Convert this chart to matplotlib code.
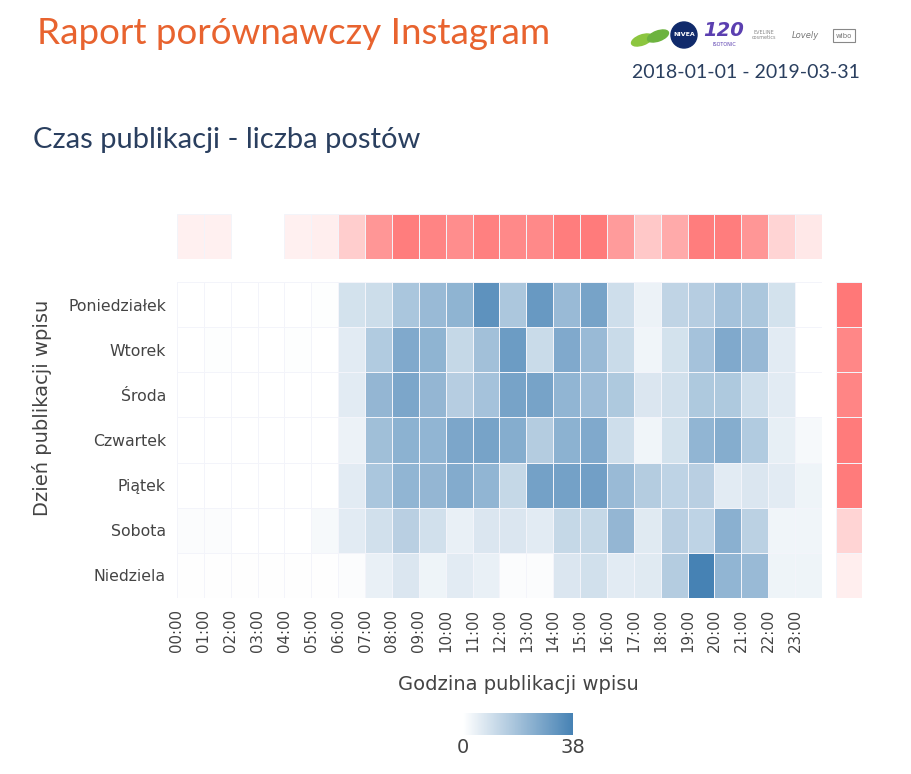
import numpy as np
import matplotlib
matplotlib.use("Agg")
import matplotlib.pyplot as plt
from matplotlib.colors import LinearSegmentedColormap, Normalize
from matplotlib.patches import Ellipse, Circle, Rectangle

plt.rcParams["font.family"] = ["DejaVu Sans"]

days = ["Poniedziałek", "Wtorek", "Środa", "Czwartek", "Piątek", "Sobota", "Niedziela"]
hours = [f"{h:02d}:00" for h in range(24)]

# posts per weekday x hour
mon = [0, 0, 0, 0, 0, 0.5, 9, 10.5, 17.5, 21, 23, 33, 17, 31, 21, 28, 10, 4, 13, 15, 18.5, 17, 9, 0]
tue = [0, 0.5, 0, 0, 0.5, 0, 6, 16, 26, 23, 12, 19, 30, 11, 26, 21, 11, 3, 9, 18.5, 26, 21.5, 6, 0]
wed = [0, 0, 0, 0, 0, 0, 6, 22, 27, 22, 15, 18.5, 28, 28, 22.5, 20, 16.5, 7.5, 9.5, 16.5, 16.5, 10, 6, 0]
thu = [0, 0, 0, 0, 0, 0, 4, 19.5, 23.5, 22.5, 27, 28, 25, 15.5, 23.5, 26, 10, 3, 9, 22.5, 25, 16, 5, 2]
fri = [0, 0, 0, 0, 0, 0, 6, 17.5, 22.5, 22, 25.5, 22.5, 12, 28.5, 28.5, 29, 21, 15.5, 13.5, 14.5, 6, 7.5, 6, 3.5]
sat = [1, 1, 0, 0, 0, 2, 6, 9.5, 14.5, 9.5, 4.5, 7.5, 7.5, 6, 12, 12, 22, 6.5, 14.5, 13.5, 24, 14, 3, 3]
sun = [0.3, 0.3, 0.3, 0.3, 0.3, 0.3, 1, 4.5, 7.5, 3.5, 6, 4.5, 1, 1, 7.5, 9.5, 6, 6.5, 15.5, 38, 22.5, 21, 3.5, 3.5]

# marginal totals (relative level)
day_totals = [100, 89, 90, 98, 98, 32, 13]
hour_totals = [11, 11, np.nan, np.nan, 11, 13, 37, 78, 96, 91, 84, 94, 87, 87, 96, 98, 74, 41, 63, 96, 96, 78, 32, 17]

data = np.array([mon, tue, wed, thu, fri, sat, sun])

blues = LinearSegmentedColormap.from_list("bl", ["#ffffff", "#4682b4"])
reds = LinearSegmentedColormap.from_list("rd", ["#ffffff", "#ff7878"])

W, H = 912, 774
fig = plt.figure(figsize=(W / 100, H / 100), dpi=100)


def box(x0, y0, x1, y1):
    return [x0 / W, 1 - y1 / H, (x1 - x0) / W, (y1 - y0) / H]


edge = "#f3f4fa"
lw = 0.7

ax = fig.add_axes(box(177, 282, 822, 598))
mesh = ax.pcolormesh(np.arange(25), np.arange(8), data, cmap=blues, vmin=0, vmax=38,
                     edgecolors=edge, linewidth=lw)
ax.set_xlim(0, 24)
ax.set_ylim(7, 0)
ax.set_xticks(np.arange(24))
ax.set_xticklabels(hours, rotation=90, fontsize=10.8, color="#444444")
ax.set_yticks(np.arange(7) + 0.5)
ax.set_yticklabels(days, fontsize=11.3, color="#444444")
ax.tick_params(length=0, pad=8)
for s in ax.spines.values():
    s.set_visible(False)

fig.text(518 / W, 1 - 685 / H, "Godzina publikacji wpisu", fontsize=14, color="#444444",
         ha="center", va="center")
fig.text(42 / W, 1 - 408 / H, "Dzień publikacji wpisu", fontsize=14, color="#444444",
         ha="center", va="center", rotation=90)

axt = fig.add_axes(box(177, 214, 822, 259))
norm = Normalize(0, 100)
idx = [i for i, v in enumerate(hour_totals) if not np.isnan(v)]
axt.bar(idx, 1, width=1, align="edge", color=[reds(norm(hour_totals[i])) for i in idx],
        edgecolor=edge, linewidth=lw)
axt.set_xlim(0, 24)
axt.set_ylim(0, 1)
axt.axis("off")

axr = fig.add_axes(box(836, 282, 862, 598))
axr.pcolormesh([0, 1], np.arange(8), np.array(day_totals)[:, None], cmap=reds,
               vmin=0, vmax=100, edgecolors=edge, linewidth=lw)
axr.set_ylim(7, 0)
axr.axis("off")

cax = fig.add_axes(box(463, 713, 573, 735))
cb = fig.colorbar(mesh, cax=cax, orientation="horizontal", ticks=[0, 38])
cb.outline.set_visible(False)
cax.tick_params(length=0, labelsize=14, colors="#444444", pad=2)

fig.text(37 / W, 1 - 33 / H, "Raport porównawczy Instagram", fontsize=26.5, color="#e8632f",
         family="Lato", va="center")
fig.text(33 / W, 1 - 140 / H, "Czas publikacji - liczba postów", fontsize=21, color="#2a3f5f",
         family="Lato", va="center")
fig.text(860 / W, 1 - 72 / H, "2018-01-01 - 2019-03-31", fontsize=14, color="#2a3f5f",
         family="Lato", ha="right", va="center")

# brand logos, drawn roughly
lg = fig.add_axes(box(625, 15, 865, 55))
lg.set_xlim(625, 865)
lg.set_ylim(55, 15)
lg.axis("off")
lg.add_patch(Ellipse((642, 40), 22, 10, angle=-20, color="#8cc63f"))
lg.add_patch(Ellipse((658, 36), 22, 10, angle=-20, color="#6db33f"))
lg.add_patch(Circle((684, 35), 13, color="#102a6b"))
lg.text(684, 35, "NIVEA", color="white", fontsize=4.5, ha="center", va="center", weight="bold")
lg.text(724, 31, "120", color="#5b3fb0", fontsize=14, ha="center", va="center", style="italic",
        weight="bold")
lg.text(724, 44, "ISOTONIC", color="#5b3fb0", fontsize=3.5, ha="center", va="center")
lg.text(764, 35, "EVELINE\ncosmetics", color="#888888", fontsize=3.5, ha="center", va="center",
        linespacing=0.9)
lg.text(805, 36, "Lovely", color="#777777", fontsize=6, ha="center", va="center", style="italic")
lg.add_patch(Rectangle((833, 29), 22, 13, fill=False, ec="#888888", lw=0.8))
lg.text(844, 35.5, "wibo", color="#777777", fontsize=5, ha="center", va="center")

fig.savefig("out.png", dpi=100)
